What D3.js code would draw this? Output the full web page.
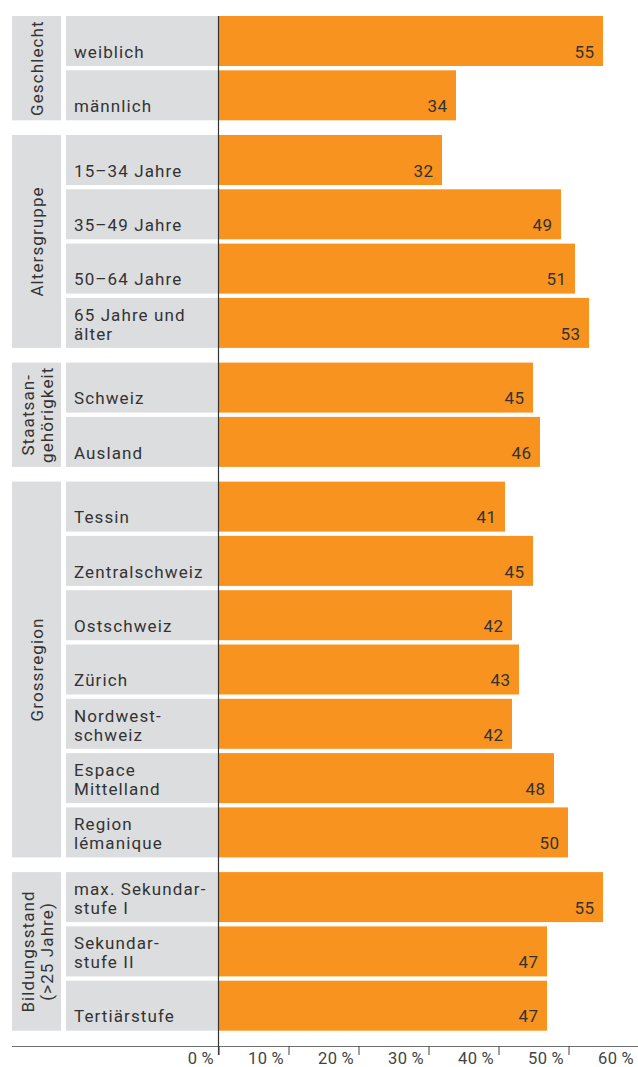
<!DOCTYPE html>
<html>
<head>
<meta charset="utf-8">
<script src="https://cdn.jsdelivr.net/npm/d3@7"></script>
<style>
  html, body { margin: 0; padding: 0; background: #fff; }
  svg { display: block; }
  text { font-family: Roboto, "Open Sans", sans-serif; }
</style>
</head>
<body>
<svg id="chart" width="638" height="1067"></svg>
<script>
// ---- data ----
const groups = [
  ["Geschlecht"],
  ["Altersgruppe"],
  ["Staatsan-", "gehörigkeit"],
  ["Grossregion"],
  ["Bildungsstand", "(>25 Jahre)"]
];
const groupSizes = [2, 4, 2, 7, 3];
const categories = [
  ["weiblich"], ["männlich"],
  ["15–34 Jahre"], ["35–49 Jahre"], ["50–64 Jahre"], ["65 Jahre und", "älter"],
  ["Schweiz"], ["Ausland"],
  ["Tessin"], ["Zentralschweiz"], ["Ostschweiz"], ["Zürich"], ["Nordwest-", "schweiz"], ["Espace", "Mittelland"], ["Region", "lémanique"],
  ["max. Sekundar-", "stufe I"], ["Sekundar-", "stufe II"], ["Tertiärstufe"]
];
const values = [55, 34, 32, 49, 51, 53, 45, 46, 41, 45, 42, 43, 42, 48, 50, 55, 47, 47];
const tickValues = [0, 10, 20, 30, 40, 50, 60];

// ---- layout ----
const svg = d3.select("#chart");
const topY = 16, rowH = 50, innerGap = 4.3, extraGroupGap = 10.4;
const n = values.length;
const groupIndex = [];
groupSizes.forEach((s, g) => { for (let i = 0; i < s; i++) groupIndex.push(g); });

const band = d3.scaleBand()
  .domain(d3.range(n))
  .range([topY, topY + n * rowH + (n - 1) * innerGap])
  .paddingInner(innerGap / (rowH + innerGap))
  .paddingOuter(0)
  .align(0);
const yRow = i => band(i) + groupIndex[i] * extraGroupGap;
const bh = band.bandwidth();

const x = d3.scaleLinear().domain([0, 60]).range([218, 638]);

const gray = "#dcdddf", orange = "#f7931e", textCol = "#333";
const fs = "17px", ls = "1.1px", lineH = 19;

// group boxes
let start = 0;
const groupSpans = groupSizes.map(s => { const a = start, b = start + s - 1; start += s; return [a, b]; });
svg.append("g").selectAll("rect").data(groupSpans).join("rect")
  .attr("x", 12).attr("width", 49)
  .attr("y", d => yRow(d[0]))
  .attr("height", d => yRow(d[1]) + bh - yRow(d[0]))
  .attr("fill", gray);

svg.append("g").selectAll("text").data(groups).join("text")
  .attr("transform", (d, i) => {
    const s = groupSpans[i];
    const cy = (yRow(s[0]) + yRow(s[1]) + bh) / 2;
    const cx = d.length === 1 ? 42.5 : 34;
    return `translate(${cx},${cy}) rotate(-90)`;
  })
  .attr("text-anchor", "middle")
  .attr("fill", textCol)
  .style("font-size", fs)
  .style("letter-spacing", ls)
  .each(function(d) {
    d3.select(this).selectAll("tspan").data(d).join("tspan")
      .attr("x", 0).attr("dy", (t, j) => j === 0 ? 0 : 18.5).text(t => t);
  });

// category boxes
svg.append("g").selectAll("rect").data(categories).join("rect")
  .attr("x", 66).attr("width", 152)
  .attr("y", (d, i) => yRow(i)).attr("height", bh)
  .attr("fill", gray);

svg.append("g").selectAll("text").data(categories).join("text")
  .attr("fill", textCol)
  .style("font-size", fs)
  .style("letter-spacing", ls)
  .each(function(d, i) {
    const base = yRow(i) + bh - 8.3;
    d3.select(this).selectAll("tspan").data(d).join("tspan")
      .attr("x", 74)
      .attr("y", (t, j) => base - (d.length - 1 - j) * lineH)
      .text(t => t);
  });

// bars
svg.append("g").selectAll("rect").data(values).join("rect")
  .attr("x", x(0) + 1)
  .attr("width", d => x(d) - x(0) - 1)
  .attr("y", (d, i) => yRow(i)).attr("height", bh)
  .attr("fill", orange);

svg.append("g").selectAll("text").data(values).join("text")
  .attr("x", d => x(d) - 8.5)
  .attr("y", (d, i) => yRow(i) + bh - 8.3)
  .attr("text-anchor", "end")
  .attr("fill", textCol)
  .style("font-size", fs)
  .style("letter-spacing", "0.4px")
  .text(d => d);

// axis
const axisY = 1046;
svg.append("line").attr("x1", 12).attr("x2", 638).attr("y1", axisY + 0.5).attr("y2", axisY + 0.5)
  .attr("stroke", "#6f6f6f").attr("stroke-width", 1);
svg.append("line").attr("x1", x(0) + 0.5).attr("x2", x(0) + 0.5).attr("y1", topY).attr("y2", axisY + 9)
  .attr("stroke", "#333").attr("stroke-width", 1.2);

const axis = d3.axisBottom(x).tickValues(tickValues).tickSize(9).tickFormat(d => d + "\u2009%");
const ax = svg.append("g").attr("transform", `translate(0.5,${axisY})`).call(axis);
ax.select(".domain").remove();
ax.selectAll(".tick line").attr("stroke", "#444");
ax.selectAll(".tick text")
  .attr("text-anchor", "end").attr("x", -5).attr("y", 0).attr("dy", "17.5px")
  .attr("fill", "#444")
  .style("font-size", "16.5px").style("letter-spacing", "0.5px")
  .style("font-family", "Roboto, 'Open Sans', sans-serif");
</script>
</body>
</html>
